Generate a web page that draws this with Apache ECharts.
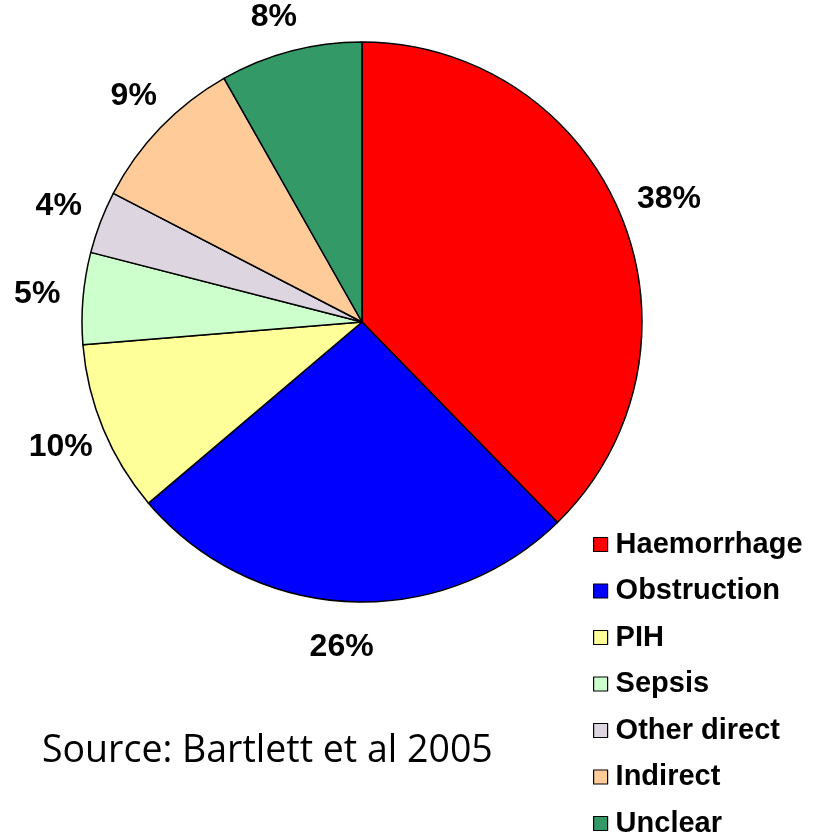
<!DOCTYPE html>
<html>
<head>
<meta charset="utf-8">
<script src="https://cdn.jsdelivr.net/npm/echarts@6/dist/echarts.min.js"></script>
<style>
html,body{margin:0;padding:0;background:#fff;}
#chart{width:824px;height:833px;}
</style>
</head>
<body>
<div id="chart"></div>
<script>
// causes of maternal death, share of deaths (%)
var causes = ["Haemorrhage", "Obstruction", "PIH", "Sepsis", "Other direct", "Indirect", "Unclear"];
var shares = [37.7, 26.1, 9.9, 5.3, 3.6, 9.2, 8.2];
var colours = ["#FF0000", "#0000FF", "#FFFF99", "#CCFFCC", "#DDD6E0", "#FFCC99", "#339966"];

var data = causes.map(function(name, i){
	return {name: name, value: shares[i], itemStyle: {color: colours[i]}};
});

var myChart = echarts.init(document.getElementById("chart"));
var option = {
	backgroundColor: "#fff",
	animation: false,
	legend: {
		orient: "vertical",
		left: 593,
		top: 530,
		height: 330,
		padding: 0,
		itemWidth: 14,
		itemHeight: 14,
		itemGap: 17.5,
		icon: "rect",
		itemStyle: {borderColor: "#000", borderWidth: 1.2},
		textStyle: {
			fontFamily: "Liberation Sans, Arial, sans-serif",
			fontWeight: "bold",
			fontSize: 29,
			lineHeight: 26,
			color: "#000",
			padding: [0, 0, 0, 3]
		},
		data: causes
	},
	graphic: [{
		type: "text",
		x: 42,
		y: 751,
		style: {
			text: "Source: Bartlett et al 2005",
			fontFamily: "Open Sans, sans-serif",
			fontSize: 37.5,
			fill: "#000",
			textVerticalAlign: "middle"
		}
	}],
	series: [{
		type: "pie",
		center: [362, 322],
		radius: 280,
		startAngle: 90,
		clockwise: true,
		data: data,
		itemStyle: {borderColor: "#000", borderWidth: 1.5},
		emphasis: {disabled: true},
		label: {
			show: true,
			position: "outside",
			overflow: "none",
			formatter: function(p){ return Math.round(p.value) + "%"; },
			fontFamily: "Liberation Sans, Arial, sans-serif",
			fontWeight: "bold",
			fontSize: 32,
			color: "#000"
		},
		labelLine: {show: false, length: 46, length2: 0},
		labelLayout: {align: "center", verticalAlign: "middle", hideOverlap: false}
	}]
};
myChart.setOption(option);
</script>
</body>
</html>
